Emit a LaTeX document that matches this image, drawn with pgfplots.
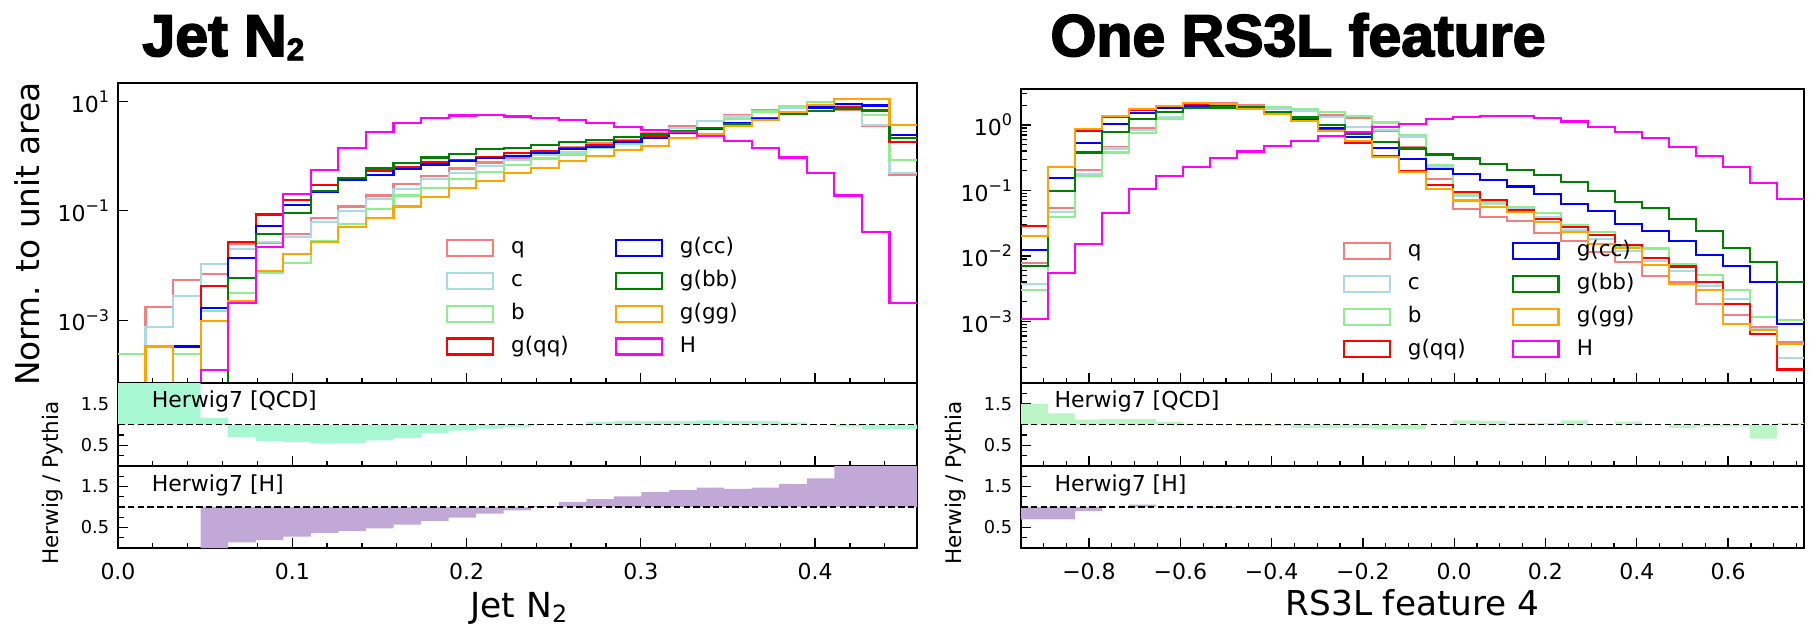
\documentclass[border=0pt]{standalone}
\usepackage{pgfplots}
\pgfplotsset{compat=1.18}
\usepackage{pgfplotstable}
\usepackage{fontspec}
\setmainfont{DejaVu Sans}
\newfontfamily\titlefont{Liberation Sans}[BoldFeatures={FakeBold=3}]

\definecolor{cq}{HTML}{F08080}
\definecolor{cc}{HTML}{ADD8E6}
\definecolor{cb}{HTML}{90EE90}
\definecolor{cqq}{HTML}{FF0000}
\definecolor{ccc}{HTML}{0000FF}
\definecolor{cbb}{HTML}{008000}
\definecolor{cgg}{HTML}{FFA500}
\definecolor{cH}{HTML}{FF00FF}
\definecolor{qcdL}{RGB}{168,248,212}
\definecolor{qcdR}{RGB}{188,245,198}
\definecolor{fillH}{RGB}{194,168,214}

\newcommand{\tp}[1]{10\raisebox{0.45em}{\fontsize{6.4}{7}\selectfont#1}}

\pgfplotstableread{
x q c b gqq gcc gbb ggg H
0.00000 1e-9 1e-9 2.44e-4 1e-9 1e-9 1e-9 1e-9 1e-9
0.01581 1.73e-3 7.5e-4 1e-9 1e-9 1e-9 1e-9 3.32e-4 1e-9
0.03162 5.45e-3 2.77e-3 2.44e-4 1e-9 3.32e-4 1e-9 1e-9 1e-9
0.04743 6.9e-3 0.0106 1.47e-3 4.23e-3 1.66e-3 1e-9 9.6e-4 1.24e-4
0.06324 0.0247 0.0200 3.18e-3 0.0268 0.0138 6.01e-3 2.24e-3 2.03e-3
0.07905 0.0258 0.0265 7.43e-3 0.0857 0.0537 0.0383 7.98e-3 0.0221
0.09486 0.0383 0.0337 0.0110 0.159 0.129 0.0918 0.0162 0.206
0.11067 0.0733 0.0618 0.0284 0.292 0.221 0.227 0.0273 0.552
0.12648 0.120 0.101 0.0577 0.405 0.361 0.405 0.0500 1.42
0.14229 0.191 0.166 0.109 0.530 0.460 0.593 0.0733 2.73
0.15810 0.314 0.247 0.191 0.637 0.577 0.753 0.120 4.10
0.17391 0.429 0.378 0.261 0.764 0.703 0.945 0.179 4.93
0.18972 0.593 0.500 0.378 0.844 0.809 1.09 0.261 5.52
0.20553 0.764 0.664 0.515 0.972 0.932 1.33 0.351 5.69
0.22134 0.945 0.844 0.683 1.12 1.01 1.42 0.500 5.30
0.23715 1.12 1.04 0.906 1.24 1.15 1.59 0.610 4.93
0.25296 1.49 1.20 1.07 1.42 1.35 1.84 0.809 4.53
0.26877 1.71 1.55 1.42 1.59 1.49 2.00 1.00 3.99
0.28458 1.97 1.71 1.64 1.89 1.79 2.24 1.29 3.47
0.30039 2.61 2.37 2.11 2.37 2.11 2.58 1.55 3.05
0.31620 3.57 3.23 2.61 2.80 2.61 2.88 2.11 2.73
0.33201 4.41 4.41 3.14 3.23 3.14 3.23 2.54 2.33
0.34782 5.69 5.30 4.73 3.94 3.94 3.88 3.57 1.89
0.36363 7.03 6.73 6.55 4.93 4.73 4.60 4.60 1.42
0.37944 7.76 7.76 8.09 6.10 6.10 5.85 6.37 0.945
0.39525 8.68 8.68 9.59 7.54 7.76 6.73 8.68 0.500
0.41106 7.03 8.09 8.93 7.76 9.06 7.33 11.2 0.191
0.42687 3.57 3.72 5.69 7.03 8.44 6.73 11.2 0.0405
0.44268 0.460 0.500 0.844 1.79 2.44 2.11 3.72 2.08e-3
0.45849 0.460 0.500 0.844 1.79 2.44 2.11 3.72 2.08e-3
}\leftmain

\pgfplotstableread{
x qcd h
0.00000 1 1
0.00000 3 1
0.01581 3 1
0.03162 3 1
0.04743 1.155 0
0.06324 0.70 0.14
0.07905 0.60 0.20
0.09486 0.58 0.28
0.11067 0.54 0.37
0.12648 0.55 0.41
0.14229 0.62 0.48
0.15810 0.68 0.57
0.17391 0.795 0.66
0.18972 0.85 0.74
0.20553 0.90 0.84
0.22134 0.94 0.92
0.23715 1.0 1.02
0.25296 0.99 1.12
0.26877 1.06 1.19
0.28458 1.08 1.26
0.30039 1.08 1.36
0.31620 1.08 1.41
0.33201 1.10 1.47
0.34782 1.08 1.44
0.36363 1.08 1.47
0.37944 1.05 1.56
0.39525 1.0 1.70
0.41106 0.95 3
0.42687 0.88 3
0.44268 0.89 3
0.45849 0.89 3
0.45849 1 1
}\leftratio

\pgfplotstableread{
x q c b gqq gcc gbb ggg H
-0.94900 7.9e-3 3.75e-3 3.07e-3 0.0290 0.0122 7.0e-3 0.0203 1.09e-3
-0.88985 0.0541 0.0464 0.0389 0.229 0.155 0.0977 0.229 5.54e-3
-0.83070 0.203 0.180 0.166 0.809 0.535 0.380 0.857 0.0151
-0.77155 0.464 0.438 0.380 1.34 1.04 0.771 1.39 0.0453
-0.71240 0.889 0.838 0.744 1.70 1.51 1.22 1.74 0.104
-0.65325 1.60 1.31 1.24 1.91 1.80 1.57 1.96 0.164
-0.59410 2.03 1.98 1.91 2.13 1.96 1.80 2.15 0.231
-0.53495 2.15 2.03 1.91 2.10 2.03 1.85 2.10 0.314
-0.47580 1.98 1.89 1.89 1.80 1.85 1.85 1.76 0.394
-0.41665 1.80 1.76 1.89 1.51 1.57 1.60 1.46 0.481
-0.35750 1.64 1.64 1.76 1.19 1.24 1.30 1.15 0.567
-0.29835 1.43 1.34 1.60 0.838 0.91 1.0 0.809 0.669
-0.23920 1.27 0.94 1.37 0.536 0.662 0.727 0.57 0.789
-0.18005 0.809 0.84 1.09 0.33 0.448 0.554 0.326 0.92
-0.12090 0.464 0.662 0.702 0.20 0.300 0.438 0.190 1.05
-0.06175 0.151 0.229 0.243 0.122 0.215 0.354 0.105 1.22
-0.00260 0.0522 0.0838 0.0889 0.0942 0.176 0.307 0.0702 1.33
0.05655 0.0398 0.0624 0.0662 0.0718 0.143 0.257 0.0554 1.39
0.11570 0.0345 0.0522 0.0568 0.0504 0.115 0.208 0.0475 1.38
0.17485 0.0221 0.0389 0.0448 0.0367 0.0889 0.170 0.0326 1.27
0.23400 0.0170 0.0248 0.0296 0.0279 0.0624 0.134 0.0229 1.13
0.29315 0.0115 0.0180 0.0229 0.0210 0.0492 0.0989 0.0151 0.94
0.35230 8.1e-3 0.0119 0.0143 0.0148 0.0307 0.0662 0.0134 0.771
0.41145 4.9e-3 8.4e-3 0.0130 9.4e-3 0.0239 0.0541 7.2e-3 0.624
0.47060 4.0e-3 5.9e-3 7.4e-3 6.9e-3 0.0170 0.0366 3.75e-3 0.464
0.52975 1.85e-3 3.45e-3 5.2e-3 4.0e-3 0.0102 0.0239 3.07e-3 0.333
0.58890 1.27e-3 2.21e-3 3.07e-3 1.85e-3 7.0e-3 0.0134 9.1e-4 0.226
0.64805 8.2e-4 7.6e-4 1.17e-3 6.5e-4 3.98e-3 8.1e-3 7.3e-4 0.131
0.70720 4.9e-4 2.8e-4 1.04e-3 1.85e-4 9.2e-4 4.0e-3 4.6e-4 0.0745
0.76635 4.9e-4 2.8e-4 1.04e-3 1.85e-4 9.2e-4 4.0e-3 4.6e-4 0.0745
}\rightmain

\pgfplotstableread{
x qcd h
-0.94900 1 1
-0.94900 1.50 0.70
-0.88985 1.27 0.70
-0.83070 1.12 0.90
-0.77155 1.13 1.0
-0.71240 1.13 1.06
-0.65325 1.06 1.0
-0.59410 1.02 1.01
-0.53495 1.0 0.97
-0.47580 0.96 1.0
-0.41665 0.96 1.0
-0.35750 0.92 1.0
-0.29835 0.92 1.0
-0.23920 0.92 1.0
-0.18005 0.88 1.0
-0.12090 0.89 1.0
-0.06175 1.0 1.0
-0.00260 1.10 1.0
0.05655 1.09 1.01
0.11570 1.04 1.0
0.17485 1.04 1.0
0.23400 1.10 1.0
0.29315 1.0 1.0
0.35230 1.07 1.0
0.41145 1.0 1.0
0.47060 0.91 1.0
0.52975 0.95 1.0
0.58890 0.95 1.0
0.64805 0.66 1.0
0.70720 1.04 1.0
0.76635 1.04 1.0
0.76635 1 1
}\rightratio

\pgfplotsset{
  base/.style={scale only axis, axis line style={line width=0.75pt},
    tick align=inside, xtick pos=bottom, ytick pos=left,
    major tick length=4pt, minor tick length=2.2pt,
    every tick/.append style={line width=0.5pt, black},
    tick label style={font=\fontsize{8.8}{10}\selectfont}},
  hist/.style={const plot, line width=0.85pt},
  legimg/.style={legend image code/.code={\draw[##1, line width=0.85pt] (0pt,-3.2pt) rectangle (18.3pt,3.2pt);}},
  legsty/.style={legend cell align=left, legend columns=4, transpose legend,
    legend style={draw=none, fill=none, at={(axis description cs:#1,0.483)}, anchor=north west,
      inner sep=0pt, outer sep=0pt, row sep=5pt, font=\fontsize{8.6}{10}\selectfont,
      nodes={inner sep=0pt, text height=6.3pt, text depth=1.8pt},
      /tikz/every odd column/.append style={column sep=6.9pt},
      /tikz/every even column/.append style={column sep=18.4pt}}},
  Lx/.style={xmin=0, xmax=0.45849, xtick={0,0.1,0.2,0.3,0.4},
    minor xtick={0.02,0.04,0.06,0.08,0.12,0.14,0.16,0.18,0.22,0.24,0.26,0.28,0.32,0.34,0.36,0.38,0.42,0.44}},
  Rx/.style={xmin=-0.949, xmax=0.76635, xtick={-0.8,-0.6,-0.4,-0.2,0,0.2,0.4,0.6},
    minor xtick={-0.9,-0.85,-0.75,-0.7,-0.65,-0.55,-0.5,-0.45,-0.35,-0.3,-0.25,-0.15,-0.1,-0.05,0.05,0.1,0.15,0.25,0.3,0.35,0.45,0.5,0.55,0.65,0.7,0.75}},
  ratio/.style={base, height=33.2pt, ymin=0, ymax=2, ytick={0.5,1.5}, yticklabels={0.5,1.5},
    minor ytick={0.25,0.75,1,1.25,1.75}, yticklabel style={font=\fontsize{7.1}{8}\selectfont}},
}

\begin{document}
\begin{tikzpicture}
% ---------------- LEFT PANEL ----------------
\begin{axis}[base, legimg, legsty=0.4105, Lx, at={(47.2pt,96.8pt)}, anchor=south west,
  width=319.6pt, height=120pt, xticklabels={},
  ymode=log, ymin=7.13e-5, ymax=21.7, ytick={1e-3,1e-1,10},
  yticklabels={\tp{−3},\tp{−1},\tp{1}}, minor y tick style={draw=none}]
\addplot[hist, cq] table[x=x,y=q]\leftmain; \addlegendentry{q}
\addplot[hist, cc] table[x=x,y=c]\leftmain; \addlegendentry{c}
\addplot[hist, cb] table[x=x,y=b]\leftmain; \addlegendentry{b}
\addplot[hist, cqq] table[x=x,y=gqq]\leftmain; \addlegendentry{g(qq)}
\addplot[hist, ccc] table[x=x,y=gcc]\leftmain; \addlegendentry{g(cc)}
\addplot[hist, cbb] table[x=x,y=gbb]\leftmain; \addlegendentry{g(bb)}
\addplot[hist, cgg] table[x=x,y=ggg]\leftmain; \addlegendentry{g(gg)}
\addplot[hist, cH] table[x=x,y=H]\leftmain; \addlegendentry{H}
\end{axis}

\begin{axis}[ratio, Lx, at={(47.2pt,63.6pt)}, anchor=south west, width=319.6pt, xticklabels={}]
\addplot[const plot, fill=qcdL, draw=none] table[x=x,y=qcd]\leftratio;
\addplot[black, line width=0.6pt, dash pattern=on 2.6pt off 1.3pt] coordinates {(0,1) (0.45849,1)};
\node[anchor=base west, font=\fontsize{8.8}{10}\selectfont] at (rel axis cs:0.0313,0.699) {Herwig7 [QCD]};
\end{axis}

\begin{axis}[ratio, Lx, at={(47.2pt,30.8pt)}, anchor=south west, width=319.6pt, height=32.8pt,
  xticklabels={0.0,0.1,0.2,0.3,0.4}, xticklabel style={yshift=-2.5pt}]
\addplot[const plot, fill=fillH, draw=none] table[x=x,y=h]\leftratio;
\addplot[black, line width=0.6pt, dash pattern=on 2.6pt off 1.3pt] coordinates {(0,1) (0.45849,1)};
\node[anchor=base west, font=\fontsize{8.8}{10}\selectfont] at (rel axis cs:0.0313,0.695) {Herwig7 [H]};
\end{axis}

% ---------------- RIGHT PANEL ----------------
\begin{axis}[base, legimg, legsty=0.411, Rx, at={(408.4pt,96.8pt)}, anchor=south west,
  width=313.2pt, height=117.6pt, xticklabels={},
  ymode=log, ymin=1.15e-4, ymax=3.54, ytick={1e-3,1e-2,1e-1,1},
  yticklabels={\tp{−3},\tp{−2},\tp{−1},\tp{0}},
  minor ytick={2e-4,3e-4,4e-4,5e-4,6e-4,7e-4,8e-4,9e-4,2e-3,3e-3,4e-3,5e-3,6e-3,7e-3,8e-3,9e-3,0.02,0.03,0.04,0.05,0.06,0.07,0.08,0.09,0.2,0.3,0.4,0.5,0.6,0.7,0.8,0.9,2,3}]
\addplot[hist, cq] table[x=x,y=q]\rightmain; \addlegendentry{q}
\addplot[hist, cc] table[x=x,y=c]\rightmain; \addlegendentry{c}
\addplot[hist, cb] table[x=x,y=b]\rightmain; \addlegendentry{b}
\addplot[hist, cqq] table[x=x,y=gqq]\rightmain; \addlegendentry{g(qq)}
\addplot[hist, ccc] table[x=x,y=gcc]\rightmain; \addlegendentry{g(cc)}
\addplot[hist, cbb] table[x=x,y=gbb]\rightmain; \addlegendentry{g(bb)}
\addplot[hist, cgg] table[x=x,y=ggg]\rightmain; \addlegendentry{g(gg)}
\addplot[hist, cH] table[x=x,y=H]\rightmain; \addlegendentry{H}
\end{axis}

\begin{axis}[ratio, Rx, at={(408.4pt,63.6pt)}, anchor=south west, width=313.2pt, xticklabels={}]
\addplot[const plot, fill=qcdR, draw=none] table[x=x,y=qcd]\rightratio;
\addplot[black, line width=0.6pt, dash pattern=on 2.6pt off 1.3pt] coordinates {(-0.949,1) (0.76635,1)};
\node[anchor=base west, font=\fontsize{8.8}{10}\selectfont] at (rel axis cs:0.0316,0.699) {Herwig7 [QCD]};
\end{axis}

\begin{axis}[ratio, Rx, at={(408.4pt,30.8pt)}, anchor=south west, width=313.2pt, height=32.8pt,
  xticklabels={−0.8,−0.6,−0.4,−0.2,0.0,0.2,0.4,0.6}, xticklabel style={yshift=-2.5pt}]
\addplot[const plot, fill=fillH, draw=none] table[x=x,y=h]\rightratio;
\addplot[black, line width=0.6pt, dash pattern=on 2.6pt off 1.3pt] coordinates {(-0.949,1) (0.76635,1)};
\node[anchor=base west, font=\fontsize{8.8}{10}\selectfont] at (rel axis cs:0.0316,0.695) {Herwig7 [H]};
\end{axis}

% ---------------- TEXT ----------------
\node[anchor=base west, inner sep=0pt, font={\titlefont\bfseries\fontsize{23.6}{28}\selectfont}] at (56.8pt,227.6pt) {Jet N\raisebox{-1.7pt}{\fontsize{12.5}{12.5}\selectfont 2}};
\node[anchor=base west, inner sep=0pt, font={\titlefont\bfseries\fontsize{23.6}{28}\selectfont}] at (420pt,227.6pt) {One RS3L feature};
\node[anchor=base, inner sep=0pt, font=\fontsize{13.8}{16}\selectfont] at (207.5pt,3.2pt) {Jet N\raisebox{-2pt}{\fontsize{9.5}{10}\selectfont 2}};
\node[anchor=base, inner sep=0pt, font=\fontsize{13.7}{16}\selectfont] at (565pt,4pt) {RS3L feature 4};
\node[anchor=base, rotate=90, inner sep=0pt, font=\fontsize{13.1}{15}\selectfont] at (16pt,156.4pt) {Norm. to unit area};
\node[anchor=base, rotate=90, inner sep=0pt, font=\fontsize{8.6}{10}\selectfont] at (23.5pt,56.8pt) {Herwig / Pythia};
\node[anchor=base, rotate=90, inner sep=0pt, font=\fontsize{8.6}{10}\selectfont] at (384.6pt,56.8pt) {Herwig / Pythia};

\pgfresetboundingbox
\path[use as bounding box] (0pt,0pt) rectangle (723.6pt,250pt);
\end{tikzpicture}
\end{document}
